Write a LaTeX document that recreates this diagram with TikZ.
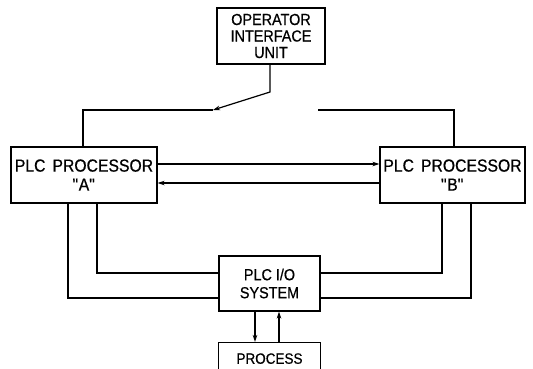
\documentclass[tikz,border=0pt]{standalone}
\usepackage{fontspec}
\setmainfont{Liberation Sans}[FakeStretch=0.9,FakeBold=0.6]
\usetikzlibrary{arrows.meta}
\begin{document}
\begin{tikzpicture}[x=1pt,y=-1pt,line width=1.2pt,
  box/.style={draw,rectangle,inner sep=0pt,align=center,font=\fontsize{17.5}{19}\selectfont},
  arr/.style={-{Stealth[length=7pt,width=4.5pt]}}]
\useasboundingbox (0,0) rectangle (533,368);
\clip (0,0) rectangle (533,368);
\node[box,minimum width=108pt,minimum height=56pt,font=\fontsize{16}{16.5}\selectfont] (op) at (271,36) {OPERATOR\\INTERFACE\\UNIT};
\node[box,minimum width=146pt,minimum height=56pt] (A) at (84,175) {PLC\hspace{7pt}PROCESSOR\\\textquotedbl A\textquotedbl};
\node[box,minimum width=145pt,minimum height=56pt] (B) at (452.5,175) {PLC\hspace{7pt}PROCESSOR\\\textquotedbl B\textquotedbl};
\node[box,minimum width=101pt,minimum height=55pt,font=\fontsize{16}{18}\selectfont] (io) at (269.5,283.5) {PLC I/O\\SYSTEM};
\node[box,anchor=north,minimum width=102pt,minimum height=32pt,font=\fontsize{15}{18}\selectfont] (proc) at (269.5,342) {PROCESS};
\coordinate (sw) at (213,110);
\coordinate (se) at (318,110);
\coordinate (kink) at (270,92);
% top bus
\draw ([xshift=-1pt]A.north) |- (sw);
\draw (se) -| ([xshift=1.5pt]B.north);
\draw[arr] (op.south -| kink) -- (kink) -- (sw);
% processor link
\draw[arr] ([yshift=11pt]A.east) -- ([yshift=11pt]B.west);
\draw[arr] ([yshift=-8pt]B.west) -- ([yshift=-8pt]A.east);
% to I/O
\draw ([xshift=-16pt]A.south) |- ([yshift=-14.5pt]io.west);
\draw ([xshift=13pt]A.south) |- ([yshift=10.5pt]io.west);
\draw ([xshift=-10.5pt]B.south) |- ([yshift=10.5pt]io.east);
\draw ([xshift=18.5pt]B.south) |- ([yshift=-14.5pt]io.east);
% I/O to process
\draw[arr] ([xshift=-14.5pt]io.south) -- ([xshift=-14.5pt]proc.north);
\draw[arr] ([xshift=9.5pt]proc.north) -- ([xshift=9.5pt]io.south);
\end{tikzpicture}
\end{document}
